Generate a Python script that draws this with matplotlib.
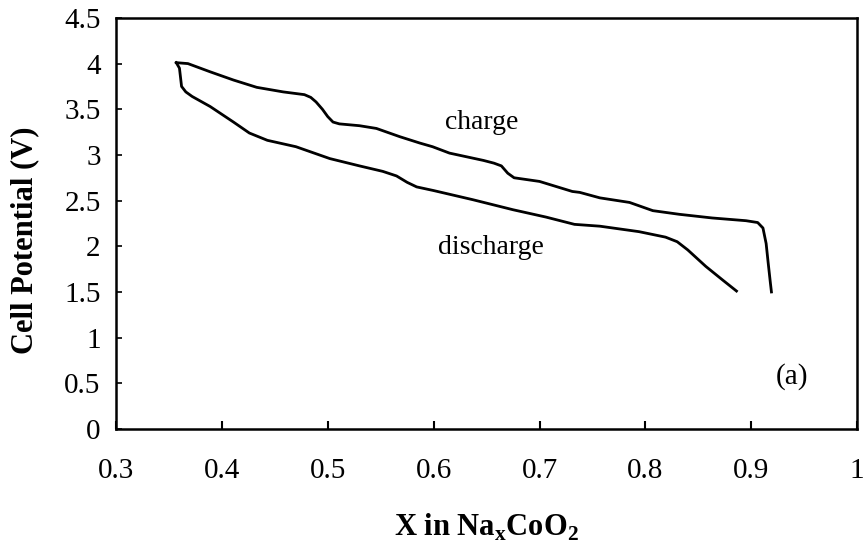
import matplotlib
matplotlib.use("Agg")
import matplotlib.pyplot as plt

# Charge branch: from the fully sodiated end (high x) up to 4.0 V
charge_x = [0.919, 0.918, 0.916, 0.914, 0.911, 0.906, 0.895, 0.863, 0.832, 0.807,
            0.785, 0.757, 0.738, 0.731, 0.700, 0.676, 0.670, 0.664, 0.657, 0.647,
            0.615, 0.599, 0.587, 0.568, 0.546, 0.530, 0.511, 0.505, 0.500, 0.495,
            0.489, 0.484, 0.478, 0.458, 0.433, 0.411, 0.389, 0.368, 0.357]
charge_v = [1.50, 1.60, 1.81, 2.03, 2.20, 2.26, 2.28, 2.31, 2.35, 2.39,
            2.48, 2.53, 2.59, 2.60, 2.71, 2.75, 2.80, 2.88, 2.91, 2.94,
            3.02, 3.09, 3.13, 3.20, 3.29, 3.32, 3.34, 3.36, 3.42, 3.50,
            3.58, 3.63, 3.66, 3.69, 3.74, 3.82, 3.91, 4.00, 4.01]

# Discharge branch: from 4.0 V back down to 1.5 V
discharge_x = [0.357, 0.360, 0.362, 0.366, 0.372, 0.389, 0.411, 0.426, 0.443, 0.470,
               0.502, 0.530, 0.552, 0.565, 0.575, 0.584, 0.600, 0.637, 0.675, 0.706,
               0.733, 0.757, 0.794, 0.819, 0.830, 0.840, 0.857, 0.873, 0.886]
discharge_v = [4.01, 3.95, 3.75, 3.69, 3.64, 3.53, 3.36, 3.24, 3.16, 3.09,
               2.96, 2.88, 2.82, 2.77, 2.70, 2.65, 2.61, 2.51, 2.40, 2.32,
               2.24, 2.22, 2.16, 2.10, 2.05, 1.96, 1.78, 1.63, 1.51]

x_ticks = [0.3, 0.4, 0.5, 0.6, 0.7, 0.8, 0.9, 1.0]
x_tick_labels = ["0.3", "0.4", "0.5", "0.6", "0.7", "0.8", "0.9", "1"]
y_ticks = [0, 0.5, 1, 1.5, 2, 2.5, 3, 3.5, 4, 4.5]
y_tick_labels = ["0", "0.5", "1", "1.5", "2", "2.5", "3", "3.5", "4", "4.5"]

plt.rcParams["font.family"] = ["Liberation Serif", "DejaVu Serif"]
plt.rcParams["mathtext.fontset"] = "custom"
plt.rcParams["mathtext.rm"] = "Liberation Serif"
plt.rcParams["mathtext.bf"] = "Liberation Serif:bold"

fig = plt.figure(figsize=(8.65, 5.43), dpi=100)
ax = fig.add_axes([0.134, 0.210, 0.857, 0.757])

ax.plot(charge_x, charge_v, color="black", lw=2.0, solid_joinstyle="round")
ax.plot(discharge_x, discharge_v, color="black", lw=2.0, solid_joinstyle="round")

ax.set_xlim(0.3, 1.0)
ax.set_ylim(0, 4.5)
ax.set_xticks(x_ticks)
ax.set_xticklabels(x_tick_labels)
ax.set_yticks(y_ticks)
ax.set_yticklabels(y_tick_labels)

ax.tick_params(axis="x", direction="in", length=6, width=1.5, pad=21, labelsize=21)
ax.tick_params(axis="y", direction="in", length=4, width=1.2, pad=11, labelsize=21)
for s in ax.spines.values():
    s.set_linewidth(1.8)

ax.set_xlabel(r"X in Na$_\mathbf{x}$CoO$_\mathbf{2}$", fontsize=22, fontweight="bold", labelpad=20)
ax.set_ylabel("Cell Potential (V)", fontsize=22, fontweight="bold")
ax.yaxis.set_label_coords(-0.103, 0.46)

ax.text(0.645, 3.36, "charge", fontsize=20, ha="center", va="center")
ax.text(0.654, 1.99, "discharge", fontsize=20, ha="center", va="center")
ax.text(0.938, 0.57, "(a)", fontsize=21, ha="center", va="center")

fig.savefig("out.png", dpi=100)
